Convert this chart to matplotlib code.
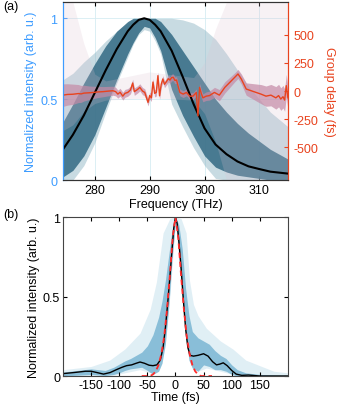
"""
Spectral intensity / group delay retrievals (a) and temporal intensity (b)
"""

import matplotlib
matplotlib.use('Agg')
from matplotlib import pyplot as plt

plt.rcParams['font.family'] = ['Liberation Sans', 'DejaVu Sans']
plt.rcParams['font.size'] = 9
plt.rcParams['axes.unicode_minus'] = False

BLUE = '#3d9cff'
RED = '#e8431e'

# ---- panel (a): spectrum (left axis) -------------------------------------
freq = [274.2, 276, 278, 280, 282, 284, 286, 287, 288, 289, 290, 291, 292,
        294, 296, 298, 300, 302, 304, 306, 308, 310, 312, 315.2]
spec_mean = [0.19, 0.28, 0.40, 0.54, 0.68, 0.81, 0.92, 0.96, 0.99, 1.0, 0.99,
             0.96, 0.92, 0.80, 0.64, 0.47, 0.32, 0.22, 0.16, 0.115, 0.085,
             0.068, 0.052, 0.04]
spec_core_lo = [0.02, 0.06, 0.15, 0.28, 0.45, 0.62, 0.78, 0.85, 0.91, 0.95,
                0.94, 0.88, 0.80, 0.56, 0.40, 0.27, 0.15, 0.08, 0.05, 0.03,
                0.02, 0.01, 0.0, 0.0]
spec_core_hi = [0.36, 0.47, 0.60, 0.72, 0.83, 0.92, 0.98, 1.0, 1.0, 1.0, 1.0,
                1.0, 0.98, 0.90, 0.80, 0.70, 0.60, 0.50, 0.42, 0.35, 0.29,
                0.24, 0.19, 0.13]
spec_all_lo = [0.0, 0.0, 0.09, 0.23, 0.42, 0.60, 0.76, 0.84, 0.90, 0.93, 0.92,
               0.86, 0.78, 0.47, 0.33, 0.20, 0.09, 0.01, 0.0, 0.0, 0.0, 0.0,
               0.0, 0.0]
spec_all_hi = [0.62, 0.66, 0.73, 0.79, 0.86, 0.92, 0.97, 0.99, 1.0, 1.0, 1.0,
               1.0, 1.0, 1.0, 0.99, 0.97, 0.93, 0.87, 0.78, 0.68, 0.58, 0.50,
               0.42, 0.33]

# ---- panel (a): group delay (right axis) ---------------------------------
gd_freq = [274.2, 275.0, 276.0, 277.0, 277.5, 278.0, 279.0, 279.7, 280.5,
           281.5, 282.5, 283.3, 283.8, 284.2, 284.6, 285.1, 285.5, 286.0,
           286.5, 286.9, 287.2, 287.8, 288.2, 288.7, 289.1, 289.7, 290.0,
           290.3, 290.6, 290.9, 291.2, 291.5, 291.8, 292.1, 292.4, 292.7,
           293.0, 293.4, 293.7, 294.0, 294.3, 294.6, 294.9, 295.2, 295.5,
           296.1, 296.7, 297.3, 297.9, 298.5, 298.8, 299.1, 299.4, 299.7,
           300.3, 300.9, 301.8, 302.7, 303.7, 304.6, 305.5, 306.1, 306.7,
           307.6, 308.5, 309.4, 310.3, 311.2, 312.1, 313.0, 313.5, 313.9,
           314.3, 314.6, 314.9, 315.2]
gd_mean = [-36, -30, -28, -22, -25, -18, -15, -12, -8, -5, 0, 3, -5, -27, -10,
           -45, -20, -12, 10, 71, -5, 15, 33, 0, -12, -100, -40, -60, 80, -20,
           -12, 137, -42, 60, 107, 60, 80, 110, 98, 120, 122, 95, 98, 40, -12,
           -27, -12, -45, -45, -12, -220, 33, -20, -60, -45, -40, -12, -36,
           33, 77, 122, 152, 107, 18, 3, -12, -27, -45, -36, -60, -40, -71,
           -50, -80, 48, -60]
gd_spread = [100, 95, 90, 80, 75, 70, 60, 55, 50, 45, 42, 40, 38, 36, 35, 35,
             35, 34, 34, 34, 33, 32, 32, 32, 32, 32, 32, 32, 32, 32, 32, 32,
             32, 30, 30, 30, 30, 30, 30, 30, 30, 30, 30, 30, 30, 30, 30, 30,
             30, 30, 35, 35, 35, 35, 38, 40, 45, 50, 50, 45, 40, 40, 45, 55,
             65, 75, 85, 90, 95, 100, 100, 100, 100, 100, 100, 100]
gd_env_freq = [274.2, 276, 278, 280, 282, 290, 298, 300, 302, 304, 315.2]
gd_env_lo = [-350, -300, -180, -110, -80, -60, -80, -200, -450, -790, -790]
gd_env_hi = [790, 790, 420, 150, 90, 170, 120, 250, 550, 790, 790]

# ---- panel (b): temporal intensity ---------------------------------------
t_mean = [-200, -180, -160, -150, -140, -128, -116, -105, -95, -87, -78, -70,
          -63, -55, -47, -40, -33, -27, -22, -18, -14, -10, -6, -3, 0, 3, 6,
          10, 14, 18, 22, 26, 32, 40, 50, 58, 66, 73, 79, 85, 92, 100, 108,
          118, 130, 150, 200]
int_mean = [0.015, 0.022, 0.03, 0.03, 0.022, 0.012, 0.022, 0.04, 0.055, 0.065,
            0.07, 0.08, 0.088, 0.08, 0.068, 0.065, 0.07, 0.10, 0.18, 0.30,
            0.45, 0.62, 0.80, 0.93, 1.0, 0.96, 0.85, 0.68, 0.48, 0.30, 0.18,
            0.13, 0.125, 0.13, 0.14, 0.125, 0.09, 0.07, 0.075, 0.083, 0.065,
            0.035, 0.012, 0.004, 0.006, 0.0, 0.0]
t_tl = [-60, -45, -40, -35, -30, -25, -20, -15, -10, -5, 0, 5, 10, 15, 20, 25,
        30, 35, 40, 45, 65]
int_tl = [0.0, 0.0, 0.01, 0.03, 0.07, 0.14, 0.25, 0.42, 0.63, 0.87, 1.0, 0.87,
          0.63, 0.42, 0.25, 0.14, 0.07, 0.03, 0.01, 0.0, 0.0]
t_band = [-200, -175, -150, -125, -110, -100, -90, -80, -70, -60, -50, -40,
          -30, -24, -18, -12, -6, 0, 6, 12, 18, 24, 30, 40, 50, 60, 70, 80,
          90, 100, 110, 125, 150, 200]
int_core_lo = [0.0, 0.005, 0.01, 0.003, 0.01, 0.02, 0.035, 0.045, 0.05, 0.055,
               0.035, 0.01, 0.03, 0.08, 0.20, 0.43, 0.74, 0.97, 0.78, 0.52,
               0.26, 0.10, 0.05, 0.03, 0.07, 0.06, 0.04, 0.04, 0.03, 0.01, 0.0,
               0.0, 0.0, 0.0]
int_core_hi = [0.025, 0.035, 0.045, 0.035, 0.055, 0.075, 0.095, 0.11, 0.13,
               0.15, 0.19, 0.26, 0.37, 0.47, 0.60, 0.76, 0.92, 1.0, 0.95, 0.80,
               0.55, 0.38, 0.28, 0.24, 0.22, 0.20, 0.16, 0.13, 0.11, 0.07,
               0.04, 0.02, 0.01, 0.005]
t_outer = [-200, -150, -117, -90, -63, -45, -34, -22, -10, 0, 10, 19, 25, 32,
           40, 55, 80, 102, 125, 150, 175, 200]
int_outer_lo = [0.0, 0.0, 0.0, 0.02, 0.04, 0.02, 0.04, 0.13, 0.5, 0.97, 0.55,
                0.22, 0.09, 0.04, 0.03, 0.05, 0.03, 0.01, 0.0, 0.0, 0.0, 0.0]
int_outer_hi = [0.04, 0.06, 0.10, 0.17, 0.27, 0.42, 0.59, 0.90, 0.99, 1.0,
                0.99, 0.90, 0.60, 0.45, 0.38, 0.30, 0.22, 0.17, 0.10, 0.065,
                0.03, 0.02]

fig = plt.figure(figsize=(3.57, 4.06), dpi=100)

# Panel (a)
ax1 = fig.add_axes([0.1765, 0.554, 0.630, 0.4384])
ax1.fill_between(freq, spec_all_lo, spec_all_hi, color='#86b0bf', alpha=0.45,
                 lw=0)
ax1.fill_between(freq, spec_core_lo, spec_core_hi, color='#3a7088', alpha=0.9,
                 lw=0)
ax1.set_xlim(274.2, 315.2)
ax1.set_ylim(0, 1.1)
ax1.set_xticks([280, 290, 300, 310])
ax1.set_yticks([0, 0.5, 1])
ax1.set_yticklabels(['0', '0.5', '1'])
ax1.grid(True, color='#d6ecf3', lw=0.6)
ax1.set_axisbelow(True)
ax1.set_xlabel('Frequency (THz)', labelpad=1)
ax1.set_ylabel('Normalized intensity (arb. u.)', color=BLUE, labelpad=2)
ax1.tick_params(axis='x', direction='in', top=True, length=3, pad=3)
ax1.tick_params(axis='y', direction='in', colors=BLUE, length=3, pad=4)

ax1r = ax1.twinx()
ax1r.fill_between(gd_env_freq, gd_env_lo, gd_env_hi, color='#dcc0d0',
                  alpha=0.22, lw=0)
gd_lo = [m - s for m, s in zip(gd_mean, gd_spread)]
gd_hi = [m + s for m, s in zip(gd_mean, gd_spread)]
ax1r.fill_between(gd_freq, gd_lo, gd_hi, color='#c58aa6', alpha=0.7, lw=0)
# mean spectrum drawn in left-axis data coordinates, above the pink bands
ax1r.plot(freq, spec_mean, c='black', lw=1.5, transform=ax1.transData)
ax1r.plot(gd_freq, gd_mean, c=RED, lw=1)
ax1r.set_ylim(-790, 790)
ax1r.set_yticks([-500, -250, 0, 250, 500])
ax1r.set_ylabel('Group delay (fs)', color=RED, rotation=270, labelpad=12)
ax1r.tick_params(axis='y', direction='in', colors=RED, length=3, pad=4)
for a in (ax1, ax1r):
    a.spines['left'].set_color(BLUE)
    a.spines['right'].set_color(RED)
    a.spines['top'].set_color('#333333')
    a.spines['bottom'].set_color('#333333')

# Panel (b)
ax2 = fig.add_axes([0.1765, 0.0714, 0.630, 0.3916])
ax2.fill_between(t_outer, int_outer_lo, int_outer_hi, color='#b3d7e8',
                 alpha=0.4, lw=0)
ax2.fill_between(t_band, int_core_lo, int_core_hi, color='#7ab6d3',
                 alpha=0.85, lw=0)
ax2.plot(t_mean, int_mean, c='black', lw=1)
ax2.plot(t_tl, int_tl, c='#ff2a2a', lw=1.3, ls=(0, (3, 2)))
ax2.set_xlim(-200, 200)
ax2.set_ylim(0, 1)
ax2.set_xticks([-150, -100, -50, 0, 50, 100, 150])
ax2.set_yticks([0, 0.5, 1])
ax2.set_yticklabels(['0', '0.5', '1'])
ax2.set_xlabel('Time (fs)', labelpad=0)
ax2.set_ylabel('Normalized intensity (arb. u.)', labelpad=2)
ax2.tick_params(axis='both', direction='in', top=True, right=True, length=3,
                pad=2)
for sp in ax2.spines.values():
    sp.set_color('#444444')

fig.text(0.008, 0.975, '(a)', fontsize=9)
fig.text(0.008, 0.462, '(b)', fontsize=9)

plt.savefig('out.png', dpi=100)
